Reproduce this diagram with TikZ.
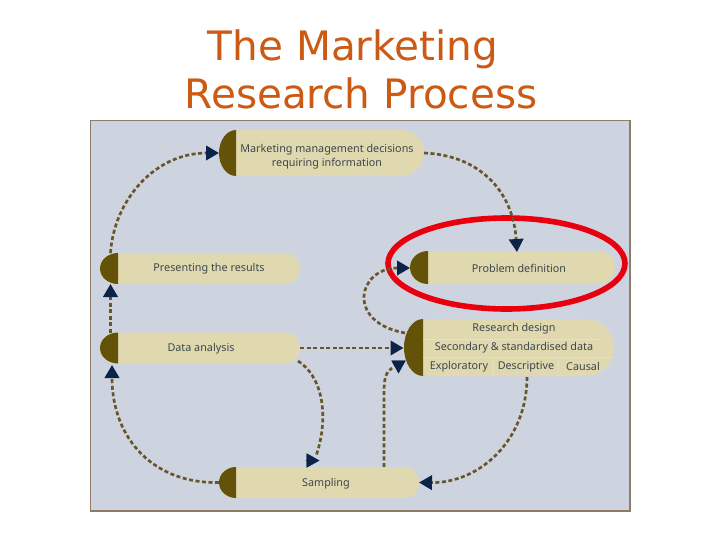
\documentclass[tikz,border=0pt]{standalone}
\usepackage{fontspec}
\setmainfont{Noto Sans}
\newfontfamily\titlefont{DejaVu Sans}
\usetikzlibrary{arrows.meta,calc}
\definecolor{panelbg}{HTML}{CED3E0}
\definecolor{panelline}{HTML}{8E7B68}
\definecolor{pillfill}{HTML}{E0D9B0}
\definecolor{capfill}{HTML}{655209}
\definecolor{linkcol}{HTML}{66562A}
\definecolor{headcol}{HTML}{0C2348}
\definecolor{labelcol}{HTML}{3C474C}
\definecolor{titlecol}{HTML}{CC5A14}
\definecolor{ringcol}{HTML}{E8000F}
\definecolor{sepcol}{HTML}{E6E0C0}
\tikzset{
  x=0.75pt,y=-0.75pt,
  pillbody/.style={fill=pillfill,draw=none,inner sep=0pt,outer sep=0pt},
  pilltext/.style={text=labelcol,font=\fontsize{8.1pt}{10.6pt}\selectfont,align=center,inner sep=0pt},
  link/.style={draw=linkcol,line width=2pt,dash pattern=on 3pt off 1.9pt},
  head/.style={-{Triangle[length=9.75pt,width=10.8pt,fill=headcol,color=headcol]}},
  headonly/.style={draw=headcol,line width=0.3pt,-{Triangle[length=9.75pt,width=10.8pt,fill=headcol,color=headcol]}},
  titletext/.style={text=titlecol,font=\titlefont\fontsize{30.4pt}{36pt}\selectfont,inner sep=0pt,anchor=base},
}
\newcommand{\pillshape}[6]{%
  \node[pillbody,minimum width={(#4-#2)*0.75pt},minimum height={(#5-#3)*0.75pt},
        rounded corners={(#5-#3)*0.37pt}] (#1) at ({(#2+#4)/2},{(#3+#5)/2}) {};
  \pgfmathsetmacro{\ym}{(#3+#5)/2}
  \pgfmathsetmacro{\cxa}{#6-0.5523*(#6-#2)}
  \pgfmathsetmacro{\cya}{\ym-0.5523*(#5-#3)/2}
  \pgfmathsetmacro{\cyb}{\ym+0.5523*(#5-#3)/2}
  \fill[capfill] (#6,#3) .. controls (\cxa,#3) and (#2,\cya) .. (#2,\ym)
     .. controls (#2,\cyb) and (\cxa,#5) .. (#6,#5) -- cycle;
}
\begin{document}
\begin{tikzpicture}
\useasboundingbox (0,0) rectangle (728,546);
% panel
\path[fill=panelbg,draw=panelline,line width=0.8pt] (90.5,120.5) rectangle (630,511);
% title
\node[titletext] (titleA) at (353,60) {The Marketing};
\node[titletext] (titleB) at (361,108) {Research Process};
% pills
\pillshape{mgmt}{219}{130}{424}{176}{236}
\pillshape{pres}{100}{253}{300}{284}{118}
\pillshape{data}{100}{332.5}{300}{363.5}{118}
\pillshape{samp}{219}{467}{419}{498}{236}
\pillshape{prob}{410}{251}{615}{284}{428}
\pillshape{res}{404}{319}{614}{376}{423}
% faint separators
\draw[sepcol,line width=0.5pt] (423,339) -- (600,339) (423,357) -- (612,357) (493,357) -- (493,376) (558,357) -- (558,376);
% labels
\node[pilltext] (mgmtT) at (327,156.5) {Marketing management decisions\\requiring information};
\node[pilltext] (presT) at (209,268.5) {Presenting the results};
\node[pilltext] (dataT) at (201,348.5) {Data analysis};
\node[pilltext] (sampT) at (326,484) {Sampling};
\node[pilltext] (probT) at (519,268.5) {Problem definition};
\node[pilltext] (resA) at (514,329) {Research design};
\node[pilltext] (resB) at (514,348) {Secondary \& standardised data};
\node[pilltext] (resC) at (459,366.5) {Exploratory};
\node[pilltext] (resD) at (526,366.5) {Descriptive};
\node[pilltext] (resE) at (583,366.5) {Causal};
% free ends
\coordinate (presN) at (110.5,253);
\coordinate (presS) at (110.5,284);
\coordinate (dataN) at (110.5,333);
\coordinate (dataS) at (112,365);
\coordinate (probN) at (517,252);
\coordinate (probW) at (410,268);
\coordinate (resNW) at (405,333);
\coordinate (resW) at (403.5,348);
\coordinate (resS) at (527,377);
\coordinate (dataSE) at (298,361);
\coordinate (sampN) at (384,467);
\coordinate (endA) at (316,456);
\coordinate (endB) at (392,368);
\coordinate (hA1) at (306,460.5);
\coordinate (hA2) at (319.5,460.5);
\coordinate (hB1) at (398.5,361);
\coordinate (hB2) at (398.5,373.5);
% ring
\node[draw=none,inner sep=0pt] (ringC) at (506.5,263.5) {};
\draw[ringcol,line width=4.2pt] (ringC) ellipse [x radius=118.5,y radius=45.5];
% connectors
\draw[link,head] (presN) .. controls (114,200) and (155,153) .. (mgmt.west);
\draw[link,head] (mgmt.east) .. controls (478,155) and (513,190) .. (probN);
\draw[link,head] (dataN) -- (presS);
\draw[link,head] (samp.west) .. controls (155,484) and (112,440) .. (dataS);
\draw[link,head] (data.east) -- (resW);
\draw[link,head] (resS) .. controls (527,440) and (480,483) .. (samp.east);
\draw[link,head] (resNW) .. controls (345,322) and (358,268) .. (probW);
\draw[link] (dataSE) .. controls (327,380) and (327,425) .. (endA);
\draw[headonly] (hA1) -- (hA2);
\draw[link] (sampN) -- (384,392) .. controls (384,378) and (386,372) .. (endB);
\draw[headonly] (hB1) -- (hB2);
\end{tikzpicture}
\end{document}
